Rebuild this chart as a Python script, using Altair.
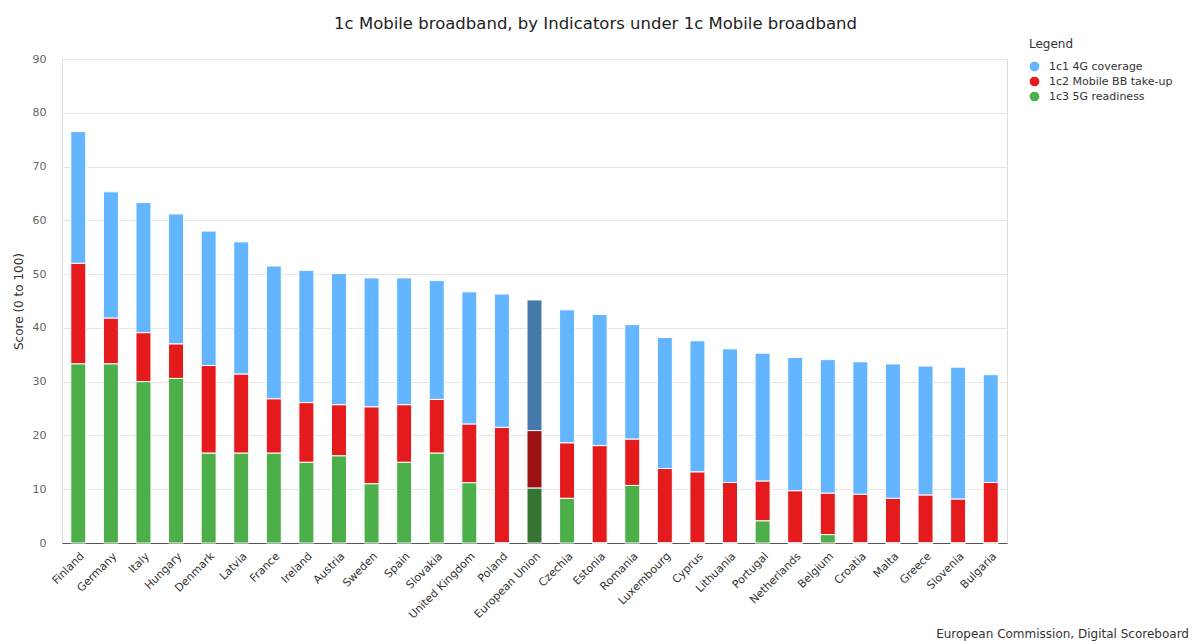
import altair as alt
import pandas as pd

countries = ["Finland", "Germany", "Italy", "Hungary", "Denmark", "Latvia", "France",
             "Ireland", "Austria", "Sweden", "Spain", "Slovakia", "United Kingdom", "Poland",
             "European Union", "Czechia", "Estonia", "Romania", "Luxembourg", "Cyprus",
             "Lithuania", "Portugal", "Netherlands", "Belgium", "Croatia", "Malta", "Greece",
             "Slovenia", "Bulgaria"]

coverage_4g = [24.5, 23.5, 24.2, 24.2, 25.0, 24.6, 24.7, 24.6, 24.4, 24.0, 23.6, 22.1, 24.6, 24.8,
               24.3, 24.75, 24.4, 21.3, 24.35, 24.4, 24.85, 23.8, 24.8, 24.85, 24.65, 25.0, 24.0,
               24.55, 20.05]
takeup_bb = [18.7, 8.5, 9.1, 6.4, 16.3, 14.7, 10.1, 11.1, 9.5, 14.3, 10.7, 10.0, 10.9, 21.5,
             10.7, 10.3, 18.1, 8.6, 13.85, 13.2, 11.25, 7.4, 9.7, 7.7, 9.05, 8.3, 8.9, 8.15, 11.25]
readiness_5g = [33.3, 33.3, 30.0, 30.6, 16.7, 16.7, 16.7, 15.0, 16.2, 11.0, 15.0, 16.7, 11.2, 0.0,
                10.2, 8.3, 0.0, 10.7, 0.0, 0.0, 0.0, 4.1, 0.0, 1.55, 0.0, 0.0, 0.0, 0.0, 0.0]

indicators = ["1c1 4G coverage", "1c2 Mobile BB take-up", "1c3 5G readiness"]
highlight = "European Union"

title_text = "1c Mobile broadband, by Indicators under 1c Mobile broadband"
y_title = "Score (0 to 100)"
credit_text = "European Commission, Digital Scoreboard"

rows = []
for ind, vals in zip(indicators, [coverage_4g, takeup_bb, readiness_5g]):
    for c, v in zip(countries, vals):
        series = ("EU " + ind) if c == highlight else ind
        rows.append({"country": c, "indicator": ind, "series": series, "value": v})
df = pd.DataFrame(rows)

color_domain = indicators + ["EU " + i for i in indicators]
color_range = ["#64b5ff", "#e41a1c", "#4daf4a", "#4479a9", "#9b1114", "#357433"]

FONT = "DejaVu Sans"

bars = alt.Chart(df).mark_bar(stroke="white", strokeWidth=1).encode(
    x=alt.X("country:N", sort=countries,
            scale=alt.Scale(paddingInner=0.54, paddingOuter=0.27),
            axis=alt.Axis(title=None, labelAngle=-45, labelFontSize=11, labelColor="#333",
                          labelFont=FONT, ticks=False, labelPadding=7,
                          domainColor="#555", domainWidth=1, grid=False)),
    y=alt.Y("value:Q", stack="zero",
            scale=alt.Scale(domain=[0, 90], nice=False),
            axis=alt.Axis(values=list(range(0, 91, 10)), grid=True, gridColor="#e6e6e6",
                          domain=False, ticks=False, labelPadding=16, labelColor="#666",
                          labelFontSize=11, labelFont=FONT,
                          title=y_title, titleFont=FONT, titleFontSize=12,
                          titleFontWeight="normal", titleColor="#333",
                          titleX=-44, titleY=242, titleAngle=270,
                          titleAlign="center", titleBaseline="middle")),
    color=alt.Color("series:N",
                    scale=alt.Scale(domain=color_domain, range=color_range),
                    legend=alt.Legend(title="Legend", values=indicators, orient="none",
                                      legendX=967, legendY=-20,
                                      titleFont=FONT, titleFontSize=12, titleFontWeight="normal",
                                      titleColor="#333", titlePadding=10,
                                      labelFont=FONT, labelFontSize=11, labelColor="#333",
                                      symbolType="circle", symbolSize=95,
                                      symbolStrokeWidth=0, rowPadding=3, labelOffset=9,
                                      padding=0)),
    order=alt.Order("indicator:N", sort="descending"),
)

credit = alt.Chart(pd.DataFrame({"t": [credit_text]})).mark_text(
    align="right", baseline="middle", fontSize=12, font=FONT, color="#333"
).encode(text="t:N", x=alt.value(1127), y=alt.value(575))

chart = alt.layer(bars, credit).properties(
    width=945, height=484,
    title=alt.TitleParams(title_text, font=FONT, fontSize=16.5, fontWeight="normal",
                          color="#222", anchor="middle", dx=61, offset=7),
    autosize=alt.AutoSizeParams(type="none"),
    padding={"left": 62, "top": 59, "right": 186, "bottom": 98},
).configure_view(stroke=None).configure(background="white")

chart.save("out.html", embed_options={"renderer": "svg", "actions": False})
